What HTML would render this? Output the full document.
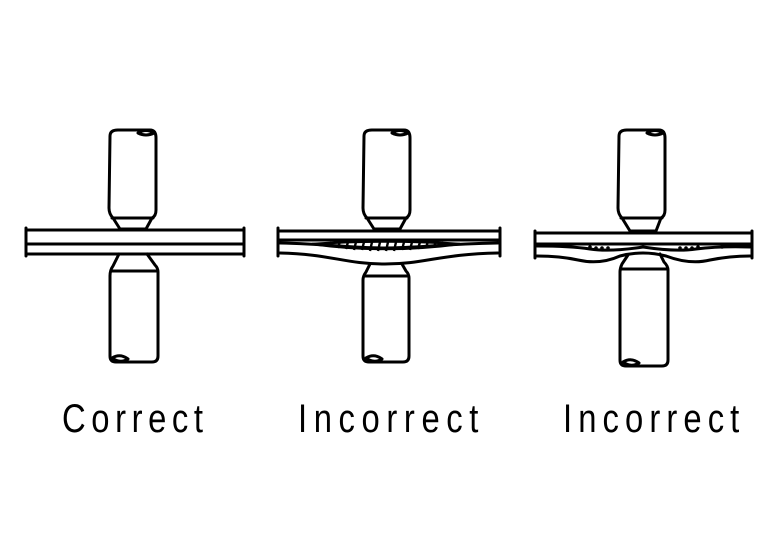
<!DOCTYPE html>
<html><head><style>html,body{margin:0;padding:0;background:#fff}</style></head>
<body>
<svg width="768" height="544" viewBox="0 0 768 544" xmlns="http://www.w3.org/2000/svg">
<rect width="768" height="544" fill="#fff"/>
<g fill="none" stroke="#000" stroke-width="3" stroke-linejoin="round" stroke-linecap="round">
<!-- Panel 1 -->
<path d="M110,136 Q110,130 118,130 L150,130 Q156,130 156,138 L156,210 Q156,216 152,218 L146,229 L120,229 L113,218 Q109,214 109,208 Z"/>
<path d="M112,218 L153,218"/>
<path d="M138,133 Q146,128 154,133 Q146,137 138,133"/>
<path d="M26,230 L244,230 M26,244 L244,244 M26,254 L244,254 M26,228 L26,256 M244,228 L244,256"/>
<path d="M119,254 L113,266 Q110,270 110,276 L110,356 Q110,362 116,362 L152,362 Q158,362 158,356 L158,272 Q158,268 155,265 L147,254"/>
<path d="M111,271 L157,271"/>
<path d="M112,358 Q120,353 128,359 Q120,364 112,358"/>
<!-- Panel 2 -->
<path d="M364,136 Q364,130 372,130 L404,130 Q410,130 410,138 L410,210 Q410,216 406,218 L400,229 L374,229 L367,218 Q363,214 363,208 Z"/>
<path d="M366,218 L407,218"/>
<path d="M392,133 Q400,128 408,133 Q400,137 392,133"/>
<path d="M279,231 L499,231 M279,240 L499,240 M278,228 L278,256 M500,228 L500,256"/>
<path d="M280,243 C330,244 350,248 385,248 C420,248 440,244 498,243"/>
<path d="M280,253 C330,254 345,264 385,264 C425,264 440,254 498,253"/>
<path d="M370,264 L366,272 Q363,276 363,280 L363,356 Q363,362 369,362 L403,362 Q409,362 409,356 L409,278 Q409,274 406,271 L402,264"/>
<path d="M364,276 L408,276"/>
<path d="M366,358 Q374,353 382,359 Q374,364 366,358"/>
<!-- Panel 3 -->
<path d="M619,136 Q619,130 627,130 L659,130 Q665,130 665,138 L665,210 Q665,216 661,218 L656,231 L630,231 L622,218 Q618,214 618,208 Z"/>
<path d="M621,218 L662,218"/>
<path d="M647,133 Q655,128 663,133 Q655,137 647,133"/>
<path d="M535,233 L752,233 M535,244 L752,244 M535,231 L535,258 M752,231 L752,258"/>
<path d="M537,246 Q570,246 590,249 Q610,252 643,247 Q676,252 696,249 Q720,246 750,247"/>
<path d="M537,256 Q560,256 578,260 Q600,265 620,256 Q643,250 666,256 Q690,265 710,260 Q730,256 750,256"/>
<path d="M628,255 L622,264 Q620,268 620,272 L620,360 Q620,366 626,366 L662,366 Q668,366 668,360 L668,270 Q668,266 664,262 L660,254"/>
<path d="M621,269 L667,269"/>
<path d="M623,362 Q631,357 639,363 Q631,368 623,362"/>
</g>
<g stroke="#000" stroke-width="2.4" fill="none">
<path d="M312,244 Q385,239 460,244 Q385,254 312,244 Z"/>
<path d="M330,247 l1.5,-5 M338,248 l2,-7 M346,249 l2,-7 M354,250 l2,-8 M362,250 l2,-8 M370,251 l2,-9 M378,251 l2,-9 M386,251 l2,-9 M394,251 l2,-9 M402,250 l2,-8 M410,250 l2,-8 M418,249 l2,-7 M426,248 l2,-7 M434,247 l2,-6 M442,246 l1.5,-4"/>
</g>
<g fill="#000">
<circle cx="590" cy="247" r="1.8"/><circle cx="596" cy="248" r="1.8"/><circle cx="602" cy="248" r="1.8"/><circle cx="608" cy="248" r="1.8"/>
<circle cx="680" cy="248" r="1.8"/><circle cx="686" cy="248" r="1.8"/><circle cx="692" cy="248" r="1.8"/><circle cx="698" cy="247" r="1.8"/><circle cx="722" cy="247" r="1.8"/>
</g>
<g font-family="Liberation Sans, sans-serif" font-size="40" fill="#000">
<text transform="translate(62,432) scale(0.82,1)" x="0" y="0" textLength="172" lengthAdjust="spacing">Correct</text>
<text transform="translate(298,432) scale(0.82,1)" x="0" y="0" textLength="220" lengthAdjust="spacing">Incorrect</text>
<text transform="translate(563,432) scale(0.82,1)" x="0" y="0" textLength="215" lengthAdjust="spacing">Incorrect</text>
</g>
</svg>
</body></html>
